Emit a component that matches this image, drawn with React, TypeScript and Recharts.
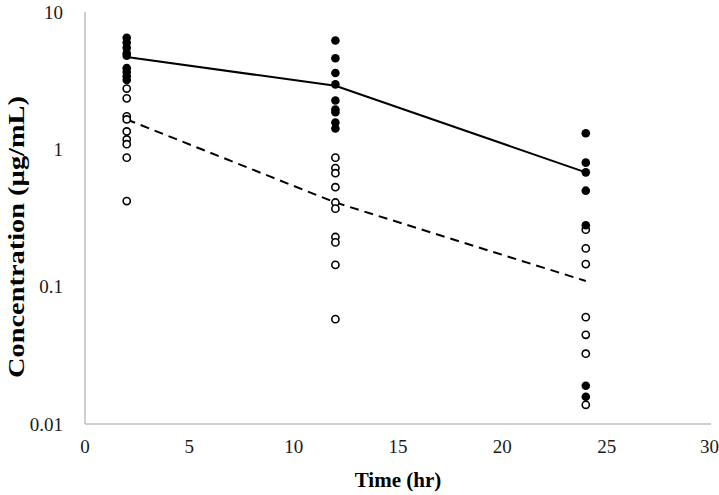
import React from "react";
import { ScatterChart, Scatter, XAxis, YAxis, Label } from "recharts";

// sampling times (hr)
const times = [2, 12, 24];

// observed concentrations, filled markers (µg/mL)
const filledAt2 = [6.5, 6.0, 5.5, 5.0, 4.8, 3.9, 3.65, 3.4, 3.2];
const filledAt12 = [6.2, 4.6, 3.6, 2.97, 2.27, 1.95, 1.86, 1.57, 1.42];
const filledAt24 = [1.31, 0.8, 0.68, 0.5, 0.28, 0.019, 0.0158];

// observed concentrations, open markers (µg/mL)
const openAt2 = [2.77, 2.35, 1.74, 1.65, 1.35, 1.18, 1.09, 0.87, 0.42];
const openAt12 = [0.87, 0.73, 0.67, 0.53, 0.41, 0.37, 0.23, 0.21, 0.144, 0.058];
const openAt24 = [0.26, 0.19, 0.146, 0.06, 0.0446, 0.0325, 0.0138];

// mean profiles
const solidMean = [4.7, 2.9, 0.68];
const dashedMean = [1.65, 0.41, 0.11];

const xTicks = [0, 5, 10, 15, 20, 25, 30];
const yTicks = [0.01, 0.1, 1, 10];

const toPoints = (groups: number[][]) =>
  groups.flatMap((vals, i) => vals.map((c) => ({ t: times[i], c })));

const filledData = toPoints([filledAt2, filledAt12, filledAt24]);
const openData = toPoints([openAt2, openAt12, openAt24]);
const solidData = solidMean.map((c, i) => ({ t: times[i], c }));
const dashedData = dashedMean.map((c, i) => ({ t: times[i], c }));

const FilledDot = (props: any) => <circle cx={props.cx} cy={props.cy} r={4.3} fill="#000" />;
const OpenDot = (props: any) => (
  <circle cx={props.cx} cy={props.cy} r={3.6} fill="#fff" stroke="#000" strokeWidth={1.6} />
);
const NoDot = () => <g />;

const font = "'Liberation Serif', 'Times New Roman', serif";

export default function App() {
  return (
    <div style={{ position: "absolute", left: 0, top: 0, background: "#fff" }}>
      <ScatterChart width={719} height={495} margin={{ top: 12, right: 8, left: 0, bottom: 0 }}>
        <XAxis
          type="number"
          dataKey="t"
          domain={[0, 30]}
          ticks={xTicks}
          tickLine={false}
          tickMargin={10}
          axisLine={{ stroke: "#bfbfbf", strokeWidth: 1.5 }}
          tick={{ fontSize: 19, fill: "#1a1a1a", fontFamily: font }}
          height={71}
        >
          <Label
            value="Time (hr)"
            position="insideBottom"
            offset={8}
            style={{ fontSize: 21, fontWeight: "bold", fill: "#000", fontFamily: font }}
          />
        </XAxis>
        <YAxis
          type="number"
          dataKey="c"
          scale="log"
          domain={[0.01, 10]}
          ticks={yTicks}
          allowDataOverflow
          tickLine={false}
          tickMargin={16}
          width={85}
          axisLine={{ stroke: "#bfbfbf", strokeWidth: 1.5 }}
          tick={{ fontSize: 19, fill: "#1a1a1a", fontFamily: font }}
          tickFormatter={(v: number) => String(v)}
        >
          <Label
            content={() => (
              <text
                x={16}
                y={237}
                transform="rotate(-90 16 237)"
                textAnchor="middle"
                dominantBaseline="central"
                textLength={282}
                lengthAdjust="spacingAndGlyphs"
                style={{ fontSize: 24, fontWeight: "bold", fill: "#000", fontFamily: font }}
              >
                Concentration (µg/mL)
              </text>
            )}
          />
        </YAxis>
        <Scatter
          data={dashedData}
          line={{ stroke: "#000", strokeWidth: 2, strokeDasharray: "9 6" }}
          shape={NoDot}
          isAnimationActive={false}
        />
        <Scatter
          data={solidData}
          line={{ stroke: "#000", strokeWidth: 2 }}
          shape={NoDot}
          isAnimationActive={false}
        />
        <Scatter data={openData} shape={OpenDot} isAnimationActive={false} />
        <Scatter data={filledData} shape={FilledDot} isAnimationActive={false} />
      </ScatterChart>
    </div>
  );
}
